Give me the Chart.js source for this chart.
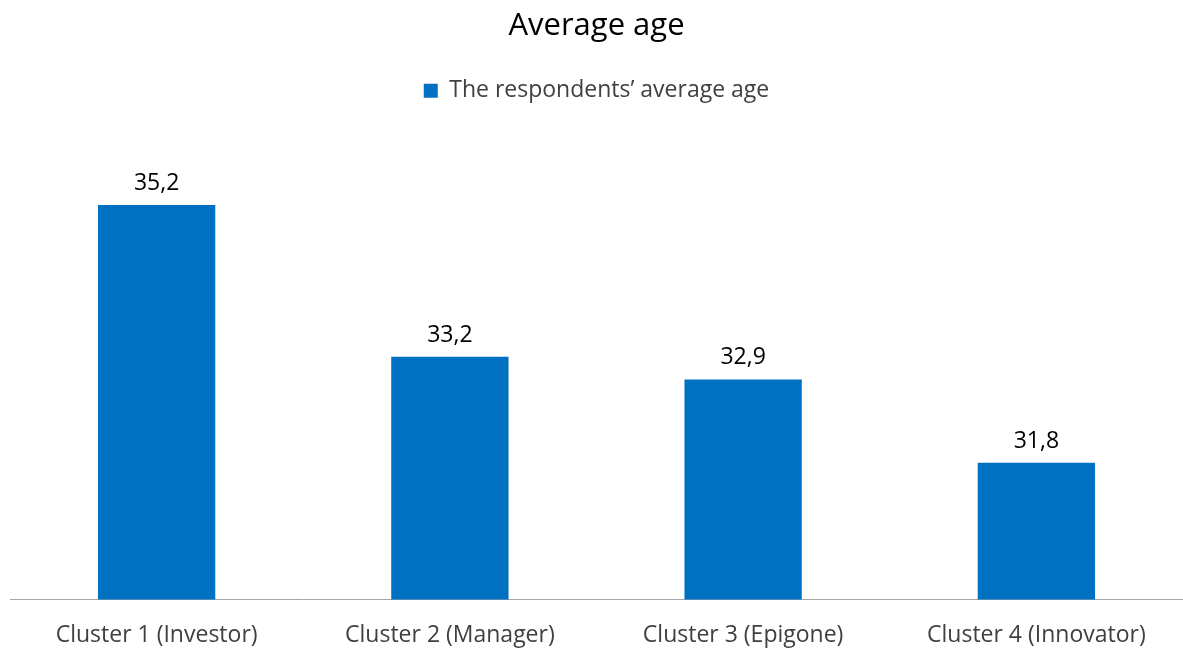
<!DOCTYPE html>
<html>
<head>
<meta charset="utf-8">
<script src="https://cdn.jsdelivr.net/npm/chart.js@4"></script>
<style>
  html, body { margin: 0; padding: 0; background: #fff; }
  #wrap { width: 1183px; height: 648px; }
</style>
</head>
<body>
<div id="wrap"><canvas id="ageChart" width="1183" height="648"></canvas></div>
<script>
// ── Data ──────────────────────────────────────────────
const categories = ["Cluster 1 (Investor)", "Cluster 2 (Manager)", "Cluster 3 (Epigone)", "Cluster 4 (Innovator)"];
const avgAge = [35.2, 33.2, 32.9, 31.8];
const seriesName = "The respondents\u2019 average age";

const FONT = "'Open Sans', 'Noto Sans', sans-serif";

// value labels above each bar, comma as decimal separator
const barLabels = {
  id: "barLabels",
  afterDatasetsDraw(chart) {
    const { ctx } = chart;
    const meta = chart.getDatasetMeta(0);
    ctx.save();
    ctx.font = "23px " + FONT;
    ctx.fillStyle = "#000";
    ctx.textAlign = "center";
    ctx.textBaseline = "alphabetic";
    meta.data.forEach((bar, i) => {
      const txt = avgAge[i].toFixed(1).replace(".", ",");
      ctx.fillText(txt, bar.x, bar.y - 15);
    });
    ctx.restore();
  }
};

// push plot area down a little below the legend
const legendGap = {
  id: "legendGap",
  beforeInit(chart) {
    const fit = chart.legend.fit;
    chart.legend.fit = function () {
      fit.bind(chart.legend)();
      this.height += 32;
    };
  }
};

new Chart(document.getElementById("ageChart"), {
  type: "bar",
  data: {
    labels: categories,
    datasets: [{
      label: seriesName,
      data: avgAge,
      backgroundColor: "#0070c0",
      borderWidth: 0,
      categoryPercentage: 1,
      barPercentage: 0.4
    }]
  },
  options: {
    responsive: false,
    animation: false,
    layout: { padding: { left: 10, right: 0, top: 8, bottom: -23 } },
    scales: {
      x: {
        grid: { display: false, drawTicks: false },
        border: { color: "#a6a6a6", width: 1 },
        ticks: { color: "#404040", font: { size: 23, family: FONT }, padding: 22 }
      },
      y: {
        display: false,
        min: 30,
        max: 36
      }
    },
    plugins: {
      title: {
        display: true,
        text: "Average age",
        color: "#000",
        font: { size: 31, family: FONT, weight: "normal" },
        padding: { top: 0, bottom: 24 }
      },
      legend: {
        position: "top",
        labels: { color: "#404040", boxWidth: 14, boxHeight: 14, padding: 10, font: { size: 23, family: FONT } }
      },
      tooltip: { enabled: false }
    }
  },
  plugins: [barLabels, legendGap]
});
</script>
</body>
</html>
